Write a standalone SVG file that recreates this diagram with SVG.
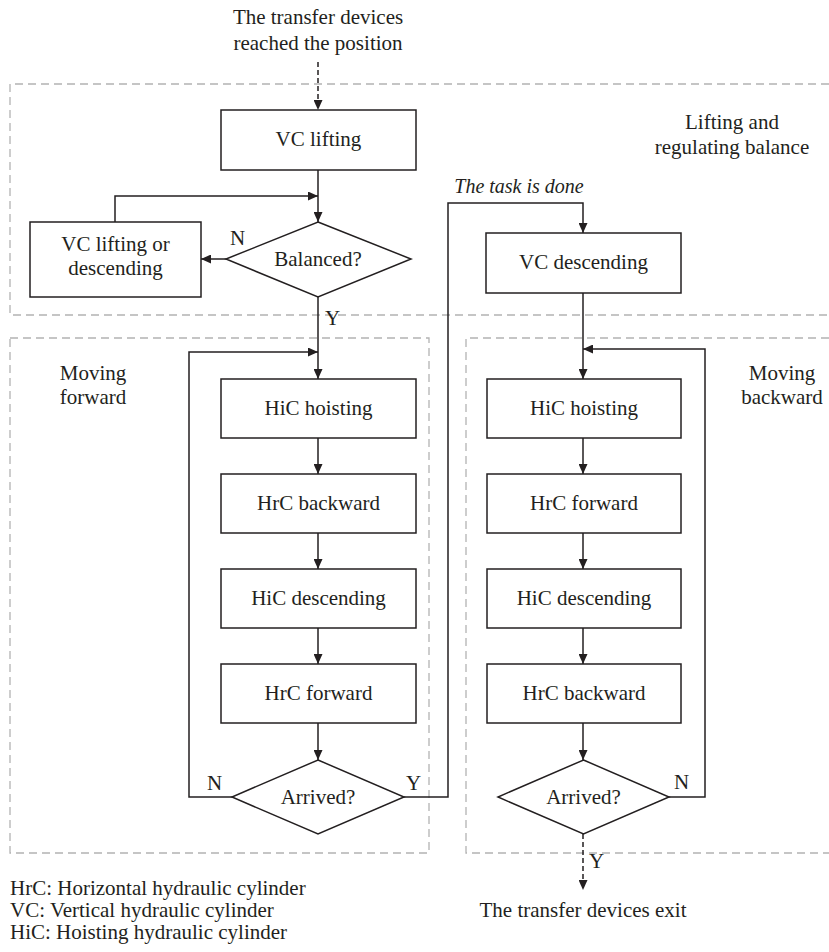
<svg xmlns="http://www.w3.org/2000/svg" width="829" height="952" viewBox="0 0 829 952">
<style>
text{font-family:"Liberation Serif","Times New Roman",serif;font-size:21px;fill:#231f20}
.c{text-anchor:middle}
.box{fill:#fff;stroke:#231f20;stroke-width:1.5}
.grp{fill:none;stroke:#b3b3b3;stroke-width:1.3;stroke-dasharray:8 5}
.ln{fill:none;stroke:#231f20;stroke-width:1.5}
.dl{fill:none;stroke:#231f20;stroke-width:1.5;stroke-dasharray:5 3}
.it{font-style:italic;font-size:20px}
</style>
<defs>
<marker id="ah" markerUnits="userSpaceOnUse" markerWidth="10" markerHeight="9" refX="10" refY="4.5" orient="auto">
<path d="M0,0 L10,4.5 L0,9 Z" fill="#231f20"/>
</marker>
</defs>
<rect width="829" height="952" fill="#fff"/>

<g id="groups">
<path class="grp" d="M829,84 H10 V315 H829"/>
<rect class="grp" x="10" y="338" width="419" height="515"/>
<path class="grp" d="M829,338 H466 V853 H829"/>
</g>

<g id="labels">
<text class="c" x="318" y="24">The transfer devices</text>
<text class="c" x="318" y="50">reached the position</text>
<text class="c" x="732" y="129">Lifting and</text>
<text class="c" x="732" y="154">regulating balance</text>
<text class="c" x="93" y="380">Moving</text>
<text class="c" x="93" y="404">forward</text>
<text class="c" x="782" y="380">Moving</text>
<text class="c" x="782" y="404">backward</text>
<text class="c it" x="519" y="193">The task is done</text>
<text class="c" x="583" y="917">The transfer devices exit</text>
<text x="10" y="895">HrC: Horizontal hydraulic cylinder</text>
<text x="10" y="917">VC: Vertical hydraulic cylinder</text>
<text x="10" y="939">HiC: Hoisting hydraulic cylinder</text>
<text x="230" y="245">N</text>
<text x="325" y="325">Y</text>
<text x="207" y="790">N</text>
<text x="406" y="790">Y</text>
<text x="674" y="789">N</text>
<text x="589" y="868">Y</text>
</g>

<g id="connectors">
<line class="dl" x1="318" y1="62" x2="318" y2="110" marker-end="url(#ah)"/>
<line class="ln" x1="318" y1="170" x2="318" y2="222" marker-end="url(#ah)"/>
<line class="ln" x1="226" y1="259" x2="201" y2="259" marker-end="url(#ah)"/>
<path class="ln" d="M115,222 V196 H318" marker-end="url(#ah)"/>
<line class="ln" x1="318" y1="297" x2="318" y2="379" marker-end="url(#ah)"/>
<path class="ln" d="M232,797 H189 V352 H318" marker-end="url(#ah)"/>
<line class="ln" x1="318" y1="438" x2="318" y2="474" marker-end="url(#ah)"/>
<line class="ln" x1="318" y1="533" x2="318" y2="569" marker-end="url(#ah)"/>
<line class="ln" x1="318" y1="628" x2="318" y2="664" marker-end="url(#ah)"/>
<line class="ln" x1="318" y1="723" x2="318" y2="760" marker-end="url(#ah)"/>
<path class="ln" d="M404,797 H448 V203 H583 V233" marker-end="url(#ah)"/>
<line class="ln" x1="583" y1="293" x2="583" y2="379" marker-end="url(#ah)"/>
<path class="ln" d="M669,797 H705 V349 H583" marker-end="url(#ah)"/>
<line class="ln" x1="583" y1="438" x2="583" y2="474" marker-end="url(#ah)"/>
<line class="ln" x1="583" y1="533" x2="583" y2="569" marker-end="url(#ah)"/>
<line class="ln" x1="583" y1="628" x2="583" y2="664" marker-end="url(#ah)"/>
<line class="ln" x1="583" y1="723" x2="583" y2="760" marker-end="url(#ah)"/>
<line class="dl" x1="583" y1="834" x2="583" y2="890" marker-end="url(#ah)"/>
</g>

<g id="n_vclift"><rect class="box" x="221" y="110" width="195" height="60"/><text class="c" x="318.5" y="146">VC lifting</text></g>
<g id="n_balanced"><polygon class="box" points="318,222 411,259 318,297 226,259"/><text class="c" x="318" y="266">Balanced?</text></g>
<g id="n_vclord"><rect class="box" x="30" y="222" width="171" height="75"/><text class="c" x="115.5" y="251">VC lifting or</text><text class="c" x="115.5" y="275">descending</text></g>

<g id="n_l_hichoist"><rect class="box" x="221" y="379" width="195" height="59"/><text class="c" x="318.5" y="415">HiC hoisting</text></g>
<g id="n_l_hrcback"><rect class="box" x="221" y="474" width="195" height="59"/><text class="c" x="318.5" y="510">HrC backward</text></g>
<g id="n_l_hicdesc"><rect class="box" x="221" y="569" width="195" height="59"/><text class="c" x="318.5" y="605">HiC descending</text></g>
<g id="n_l_hrcfwd"><rect class="box" x="221" y="664" width="195" height="59"/><text class="c" x="318.5" y="700">HrC forward</text></g>
<g id="n_l_arrived"><polygon class="box" points="318,760 404,797 318,834 232,797"/><text class="c" x="318" y="804">Arrived?</text></g>

<g id="n_vcdesc"><rect class="box" x="486" y="233" width="195" height="60"/><text class="c" x="583.5" y="269">VC descending</text></g>
<g id="n_r_hichoist"><rect class="box" x="487" y="379" width="194" height="59"/><text class="c" x="584" y="415">HiC hoisting</text></g>
<g id="n_r_hrcfwd"><rect class="box" x="487" y="474" width="194" height="59"/><text class="c" x="584" y="510">HrC forward</text></g>
<g id="n_r_hicdesc"><rect class="box" x="487" y="569" width="194" height="59"/><text class="c" x="584" y="605">HiC descending</text></g>
<g id="n_r_hrcback"><rect class="box" x="487" y="664" width="194" height="59"/><text class="c" x="584" y="700">HrC backward</text></g>
<g id="n_r_arrived"><polygon class="box" points="583.5,760 669,797 583.5,834 498,797"/><text class="c" x="583.5" y="804">Arrived?</text></g>
</svg>
